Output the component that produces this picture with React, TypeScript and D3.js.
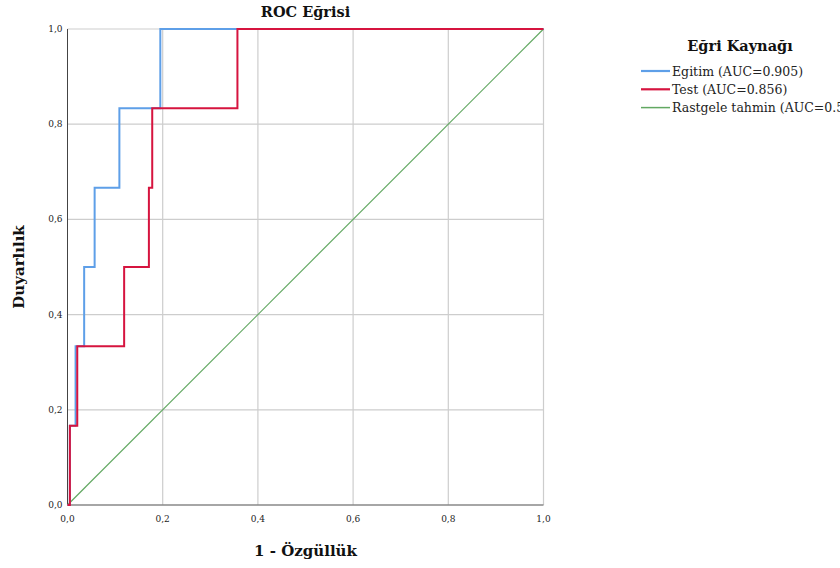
import React from "react";
import * as d3 from "d3";

const ticks = [0, 0.2, 0.4, 0.6, 0.8, 1.0];
const tickLabels = ["0,0", "0,2", "0,4", "0,6", "0,8", "1,0"];

const egitimFpr = [0, 0.005, 0.005, 0.017, 0.017, 0.035, 0.035, 0.057, 0.057, 0.109, 0.109, 0.195, 0.195, 1];
const egitimTpr = [0, 0, 0.1667, 0.1667, 0.3333, 0.3333, 0.5, 0.5, 0.6667, 0.6667, 0.8333, 0.8333, 1, 1];
const testFpr = [0, 0.005, 0.005, 0.0205, 0.0205, 0.119, 0.119, 0.171, 0.171, 0.178, 0.178, 0.357, 0.357, 1];
const testTpr = [0, 0, 0.1667, 0.1667, 0.3333, 0.3333, 0.5, 0.5, 0.6667, 0.6667, 0.8333, 0.8333, 1, 1];
const refFpr = [0, 1];
const refTpr = [0, 1];

const seriesNames = ["Egitim (AUC=0.905)", "Test (AUC=0.856)", "Rastgele tahmin (AUC=0.5)"];
const seriesColors = ["#5e9fe8", "#d6143f", "#62a862"];

const W = 840, H = 568;
const L = 67.5, R = 543.5, T = 29, B = 505;
const FONT = "'DejaVu Serif', serif";

export default function App() {
  const x = d3.scaleLinear().domain([0, 1]).range([L, R]);
  const y = d3.scaleLinear().domain([0, 1]).range([B, T]);
  const line = d3.line<[number, number]>().x(d => x(d[0])).y(d => y(d[1]));
  const egitim = egitimFpr.map((v, i) => [v, egitimTpr[i]] as [number, number]);
  const test = testFpr.map((v, i) => [v, testTpr[i]] as [number, number]);
  const ref = refFpr.map((v, i) => [v, refTpr[i]] as [number, number]);

  return (
    <svg width={W} height={H} style={{ position: "absolute", left: 0, top: 0, background: "#fff" }}>
      <rect x={0} y={0} width={W} height={H} fill="#fff" />
      {/* grid */}
      {ticks.slice(1).map((t, i) => (
        <line key={"gx" + i} x1={x(t)} x2={x(t)} y1={T} y2={B} stroke="#cdcdcd" strokeWidth={1.2} />
      ))}
      {ticks.slice(1).map((t, i) => (
        <line key={"gy" + i} x1={L} x2={R} y1={y(t)} y2={y(t)} stroke="#cdcdcd" strokeWidth={1.2} />
      ))}
      {/* axes */}
      <line x1={L} x2={L} y1={T} y2={B} stroke="#444" strokeWidth={1} />
      <line x1={L} x2={R} y1={B} y2={B} stroke="#888" strokeWidth={1.6} />
      {/* tick labels */}
      {ticks.map((t, i) => (
        <text key={"tx" + i} x={x(t)} y={B + 17} textAnchor="middle" fontFamily={FONT} fontSize={9} fill="#222">
          {tickLabels[i]}
        </text>
      ))}
      {ticks.map((t, i) => (
        <text key={"ty" + i} x={L - 5} y={y(t) + 3} textAnchor="end" fontFamily={FONT} fontSize={9} fill="#222">
          {tickLabels[i]}
        </text>
      ))}
      {/* lines */}
      <path d={line(ref) || ""} fill="none" stroke={seriesColors[2]} strokeWidth={1.2} />
      <path d={line(egitim) || ""} fill="none" stroke={seriesColors[0]} strokeWidth={2} />
      <path d={line(test) || ""} fill="none" stroke={seriesColors[1]} strokeWidth={2} />
      {/* titles */}
      <text x={(L + R) / 2 + 0} y={17} textAnchor="middle" fontFamily={FONT} fontWeight="bold" fontSize={14.5} fill="#111">
        ROC Eğrisi
      </text>
      <text x={(L + R) / 2} y={556} textAnchor="middle" fontFamily={FONT} fontWeight="bold" fontSize={15} fill="#111">
        1 - Özgüllük
      </text>
      <text transform={`translate(24,${(T + B) / 2}) rotate(-90)`} textAnchor="middle" fontFamily={FONT} fontWeight="bold" fontSize={15} fill="#111">
        Duyarlılık
      </text>
      {/* legend */}
      <text x={740} y={51} textAnchor="middle" fontFamily={FONT} fontWeight="bold" fontSize={14.5} fill="#111">
        Eğri Kaynağı
      </text>
      {seriesNames.map((n, i) => (
        <g key={"lg" + i}>
          <line x1={641} x2={670} y1={71 + i * 18.3} y2={71 + i * 18.3} stroke={seriesColors[i]} strokeWidth={i === 2 ? 1.5 : 2.2} />
          <text x={672} y={75.5 + i * 18.3} fontFamily={FONT} fontSize={12.5} fill="#222">
            {n}
          </text>
        </g>
      ))}
    </svg>
  );
}
